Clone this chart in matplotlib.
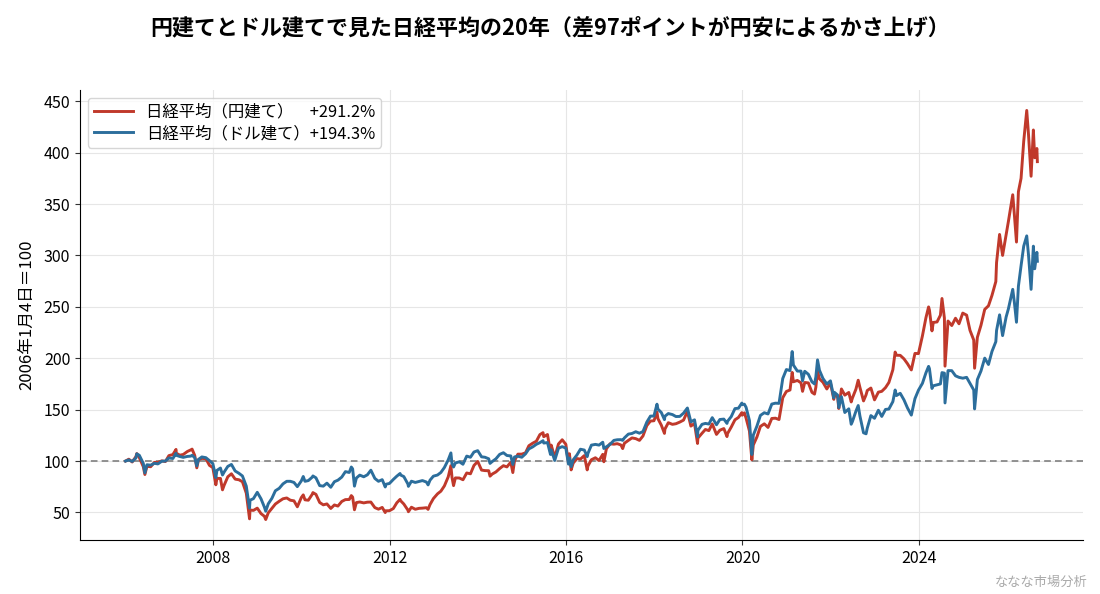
import matplotlib
matplotlib.use("Agg")
import matplotlib.pyplot as plt
import matplotlib.dates as mdates
import pandas as pd

plt.rcParams['font.family'] = ['Noto Sans CJK JP', 'DejaVu Sans']

# ---- data (index, 2006-01-04 = 100) ----
dates = [
    "2006-01-04", "2006-01-31", "2006-02-28", "2006-03-31", "2006-04-07", "2006-04-28", "2006-05-31", "2006-06-13",
    "2006-06-30", "2006-07-31", "2006-08-31", "2006-09-29", "2006-10-31", "2006-11-30", "2006-12-29",
    "2007-01-31", "2007-02-26", "2007-02-28", "2007-03-30", "2007-04-27", "2007-05-31", "2007-06-29", "2007-07-09",
    "2007-07-31", "2007-08-17", "2007-08-31", "2007-09-28", "2007-10-31", "2007-11-30", "2007-12-28",
    "2008-01-22", "2008-01-31", "2008-02-29", "2008-03-17", "2008-03-31", "2008-04-30", "2008-05-30", "2008-06-30",
    "2008-07-31", "2008-08-29", "2008-09-30", "2008-10-27", "2008-10-31", "2008-11-28", "2008-12-30",
    "2009-01-30", "2009-02-27", "2009-03-10", "2009-03-31", "2009-04-30", "2009-05-29", "2009-06-30", "2009-07-31",
    "2009-08-31", "2009-09-30", "2009-10-30", "2009-11-27", "2009-12-30",
    "2010-01-15", "2010-01-29", "2010-02-26", "2010-03-31", "2010-04-05", "2010-04-30", "2010-05-31", "2010-06-30",
    "2010-07-30", "2010-08-31", "2010-09-30", "2010-10-29", "2010-11-30", "2010-12-30",
    "2011-01-31", "2011-02-17", "2011-02-28", "2011-03-15", "2011-03-31", "2011-04-28", "2011-05-31", "2011-06-30",
    "2011-07-29", "2011-08-31", "2011-09-30", "2011-10-31", "2011-11-25", "2011-11-30", "2011-12-30",
    "2012-01-31", "2012-02-29", "2012-03-27", "2012-03-30", "2012-04-27", "2012-05-31", "2012-06-04", "2012-06-29",
    "2012-07-31", "2012-08-31", "2012-09-28", "2012-10-31", "2012-11-14", "2012-11-30", "2012-12-28",
    "2013-01-31", "2013-02-28", "2013-03-29", "2013-04-30", "2013-05-22", "2013-05-31", "2013-06-13", "2013-06-28",
    "2013-07-31", "2013-08-30", "2013-09-30", "2013-10-31", "2013-11-29", "2013-12-30",
    "2014-01-31", "2014-02-28", "2014-03-31", "2014-04-11", "2014-04-30", "2014-05-30", "2014-06-30", "2014-07-31",
    "2014-08-29", "2014-09-30", "2014-10-17", "2014-10-31", "2014-11-28", "2014-12-30",
    "2015-01-30", "2015-02-27", "2015-03-31", "2015-04-30", "2015-05-29", "2015-06-24", "2015-06-30", "2015-07-31",
    "2015-08-25", "2015-08-31", "2015-09-29", "2015-10-30", "2015-11-30", "2015-12-30",
    "2016-01-21", "2016-01-29", "2016-02-12", "2016-02-29", "2016-03-31", "2016-04-29", "2016-05-31", "2016-06-24",
    "2016-06-30", "2016-07-29", "2016-08-31", "2016-09-30", "2016-10-31", "2016-11-09", "2016-11-30", "2016-12-30",
    "2017-01-31", "2017-02-28", "2017-03-31", "2017-04-14", "2017-04-28", "2017-05-31", "2017-06-30", "2017-07-31",
    "2017-08-31", "2017-09-29", "2017-10-31", "2017-11-30", "2017-12-29",
    "2018-01-23", "2018-01-31", "2018-02-28", "2018-03-26", "2018-03-30", "2018-04-27", "2018-05-31", "2018-06-29",
    "2018-07-31", "2018-08-31", "2018-10-02", "2018-10-31", "2018-11-30", "2018-12-25", "2018-12-28",
    "2019-01-31", "2019-02-28", "2019-03-29", "2019-04-26", "2019-05-31", "2019-06-28", "2019-07-31", "2019-08-26",
    "2019-08-30", "2019-09-30", "2019-10-31", "2019-11-29", "2019-12-27", "2019-12-30",
    "2020-01-17", "2020-01-31", "2020-02-28", "2020-03-19", "2020-03-31", "2020-04-30", "2020-05-29", "2020-06-30",
    "2020-07-31", "2020-08-31", "2020-09-30", "2020-10-30", "2020-11-30", "2020-12-30",
    "2021-01-29", "2021-02-16", "2021-02-26", "2021-03-31", "2021-04-30", "2021-05-13", "2021-05-31", "2021-06-30",
    "2021-07-30", "2021-08-20", "2021-08-31", "2021-09-14", "2021-09-30", "2021-10-29", "2021-11-30", "2021-12-30",
    "2022-01-27", "2022-01-31", "2022-02-28", "2022-03-09", "2022-03-31", "2022-04-28", "2022-05-31", "2022-06-20",
    "2022-06-30", "2022-07-29", "2022-08-17", "2022-08-31", "2022-09-30", "2022-10-21", "2022-10-31", "2022-11-30",
    "2022-12-30",
    "2023-01-31", "2023-02-28", "2023-03-31", "2023-04-28", "2023-05-31", "2023-06-19", "2023-06-30", "2023-07-31",
    "2023-08-31", "2023-09-29", "2023-10-31", "2023-11-30", "2023-12-29",
    "2024-01-31", "2024-02-29", "2024-03-22", "2024-03-29", "2024-04-19", "2024-04-30", "2024-05-31", "2024-06-28",
    "2024-07-11", "2024-07-31", "2024-08-05", "2024-08-30", "2024-09-30", "2024-10-31", "2024-11-29", "2024-12-30",
    "2025-01-31", "2025-02-28", "2025-03-31", "2025-04-07", "2025-04-30", "2025-05-30", "2025-06-30", "2025-07-31",
    "2025-08-29", "2025-09-30", "2025-10-06", "2025-10-31", "2025-11-25", "2025-12-24",
    "2026-01-12", "2026-02-17", "2026-03-03", "2026-03-20", "2026-04-05", "2026-04-27", "2026-05-19", "2026-06-13",
    "2026-06-28", "2026-07-19", "2026-08-07", "2026-08-18", "2026-09-05", "2026-09-09",
]

nikkei_yen = [
    100.0, 101.8, 99.1, 104.3, 107.3, 103.3, 94.5, 86.9,
    94.8, 94.5, 98.7, 98.6, 100.2, 99.5, 105.3,
    106.3, 111.3, 107.6, 105.7, 106.4, 109.3, 110.9, 111.6,
    105.4, 93.4, 101.3, 102.6, 102.3, 95.8, 93.6,
    76.9, 83.1, 83.1, 72.0, 76.6, 84.7, 87.6, 82.4,
    81.8, 79.9, 68.8, 43.8, 52.4, 52.0, 54.2,
    48.9, 46.3, 43.1, 49.6, 54.0, 58.2, 60.9, 63.3,
    64.1, 61.9, 61.3, 55.5, 64.5,
    67.1, 62.3, 61.9, 67.8, 69.3, 67.6, 59.7, 57.4,
    58.3, 53.9, 57.3, 56.2, 60.7, 62.5,
    62.6, 66.4, 64.9, 52.6, 59.6, 60.2, 59.3, 60.0,
    60.1, 54.7, 53.2, 54.9, 49.9, 51.6, 51.7,
    53.8, 59.4, 62.7, 61.6, 58.2, 52.2, 50.7, 55.1,
    53.1, 54.0, 54.2, 54.6, 53.0, 57.7, 63.5,
    68.1, 70.7, 75.8, 84.7, 95.5, 84.2, 76.1, 83.6,
    83.5, 81.8, 88.4, 87.6, 95.7, 99.6,
    91.2, 90.7, 90.6, 85.3, 87.4, 89.4, 92.7, 95.5,
    94.3, 98.9, 88.8, 100.3, 106.7, 106.7,
    108.0, 114.9, 117.4, 119.3, 125.7, 127.6, 123.7, 125.8,
    108.8, 115.5, 103.5, 116.6, 120.7, 116.3,
    97.9, 107.1, 91.4, 98.0, 102.4, 101.9, 105.3, 91.4,
    95.2, 101.3, 103.2, 100.5, 106.5, 99.3, 111.9, 116.8,
    116.4, 116.9, 115.6, 112.1, 117.3, 120.1, 122.5, 121.8,
    120.1, 124.4, 134.5, 138.9, 139.2,
    147.5, 141.2, 134.9, 126.9, 131.1, 137.3, 135.7, 136.3,
    137.9, 139.8, 148.3, 134.0, 136.6, 117.1, 122.3,
    127.0, 130.7, 129.6, 136.1, 125.9, 130.0, 131.6, 123.8,
    126.6, 133.0, 140.1, 142.4, 147.1, 144.6,
    146.9, 141.8, 129.2, 101.2, 115.6, 123.4, 133.7, 136.2,
    132.7, 141.4, 141.7, 140.4, 161.6, 167.7,
    169.1, 186.2, 177.1, 178.4, 176.1, 167.8, 176.4, 176.0,
    166.8, 165.1, 171.7, 187.5, 180.0, 176.6, 170.1, 176.0,
    160.0, 165.0, 162.1, 151.1, 170.1, 164.1, 166.7, 157.5,
    161.3, 169.9, 178.6, 171.7, 158.5, 164.4, 168.6, 171.0,
    159.5,
    167.0, 167.8, 171.4, 176.4, 188.8, 206.0, 202.9, 202.8,
    199.4, 194.7, 188.6, 204.7, 204.5,
    221.8, 239.4, 249.9, 246.8, 226.6, 234.8, 235.3, 241.9,
    258.1, 239.0, 192.3, 236.2, 231.8, 238.9, 233.5, 243.9,
    241.9, 227.1, 217.7, 190.3, 220.3, 232.1, 247.5, 251.0,
    261.1, 274.6, 293.0, 320.4, 300.0, 320.0,
    333.0, 359.0, 339.0, 313.0, 362.0, 375.0, 411.0, 441.0,
    417.0, 377.0, 422.0, 395.0, 404.0, 391.2,
]

nikkei_usd = [
    100.0, 101.1, 99.6, 103.0, 107.0, 105.6, 97.7, 88.5,
    96.4, 96.0, 97.8, 97.2, 99.8, 100.0, 103.0,
    102.5, 107.5, 105.6, 104.4, 103.6, 104.5, 104.8, 105.6,
    103.4, 95.3, 101.6, 104.0, 103.3, 100.4, 97.5,
    84.0, 90.9, 93.2, 86.4, 89.4, 94.8, 96.7, 90.3,
    88.1, 85.5, 75.6, 54.2, 61.9, 63.4, 69.6,
    63.3, 55.2, 51.2, 58.4, 63.7, 71.1, 73.5, 77.8,
    80.3, 80.3, 79.2, 75.1, 80.7,
    85.0, 80.3, 81.0, 84.4, 85.5, 83.7, 76.1, 75.6,
    78.5, 74.5, 79.9, 81.4, 84.4, 89.7,
    88.9, 94.2, 92.4, 75.6, 83.5, 86.3, 84.7, 86.6,
    91.1, 83.1, 80.3, 81.9, 74.8, 77.4, 78.2,
    82.1, 85.3, 87.9, 86.5, 84.9, 77.6, 75.4, 80.4,
    79.2, 80.2, 81.0, 79.6, 76.8, 81.4, 85.3,
    86.4, 88.9, 93.7, 101.2, 107.9, 97.5, 94.2, 98.1,
    99.3, 96.9, 104.8, 103.7, 108.8, 110.1,
    104.1, 103.7, 102.2, 97.7, 99.6, 102.2, 106.5, 108.1,
    105.4, 105.0, 96.7, 104.0, 104.7, 103.7,
    107.0, 111.8, 113.8, 116.3, 117.9, 119.8, 117.5, 118.0,
    106.4, 110.9, 100.6, 112.5, 114.0, 112.6,
    97.0, 102.9, 94.5, 101.2, 105.9, 111.5, 110.7, 104.3,
    107.4, 115.5, 116.2, 115.5, 118.3, 112.2, 113.8, 116.2,
    120.1, 120.7, 120.8, 120.1, 122.5, 126.2, 126.8, 128.5,
    127.1, 128.7, 137.9, 143.7, 143.8,
    155.3, 150.5, 147.2, 140.3, 143.6, 146.2, 145.2, 143.3,
    143.4, 146.6, 151.6, 138.1, 140.1, 123.6, 129.8,
    135.7, 136.6, 136.0, 142.2, 135.3, 140.4, 140.8, 136.6,
    138.6, 143.2, 151.0, 151.4, 156.4, 154.9,
    155.3, 152.3, 139.4, 106.4, 125.2, 134.0, 144.4, 147.0,
    145.8, 155.4, 156.3, 156.1, 180.3, 189.0,
    188.0, 206.5, 193.4, 187.5, 187.5, 178.0, 187.3, 184.4,
    177.0, 175.0, 181.7, 198.4, 188.3, 180.3, 174.9, 178.0,
    161.5, 166.9, 164.1, 152.0, 162.6, 147.2, 150.8, 135.8,
    138.4, 148.5, 154.0, 143.9, 127.5, 126.5, 132.0, 144.2,
    141.6,
    149.4, 143.4, 150.2, 150.6, 157.8, 169.1, 163.7, 165.9,
    159.5, 151.7, 144.7, 160.7, 168.9,
    175.6, 185.8, 192.1, 189.9, 170.6, 173.2, 174.1, 175.0,
    186.0, 185.5, 156.5, 188.0, 187.9, 182.9, 181.4, 180.6,
    181.4, 175.5, 169.1, 150.7, 179.2, 187.6, 200.1, 193.9,
    206.6, 216.1, 227.0, 242.2, 222.0, 240.0,
    248.0, 267.0, 254.0, 235.0, 270.0, 290.0, 309.0, 319.0,
    300.0, 267.0, 309.0, 287.0, 303.0, 294.3,
]

label_yen = "日経平均（円建て）\u3000+291.2%"
label_usd = "日経平均（ドル建て）+194.3%"
title = "円建てとドル建てで見た日経平均の20年（差97ポイントが円安によるかさ上げ）"
ylabel = "2006年1月4日＝100"
yticks = [50, 100, 150, 200, 250, 300, 350, 400, 450]

# ---- plot ----
x = pd.to_datetime(dates)
fig = plt.figure(figsize=(11, 5.94), dpi=100)
ax = fig.add_axes([0.0727, 0.0909, 0.9118, 0.7576])

ax.plot(x, nikkei_yen, color="#c0392b", lw=2.1, label=label_yen, zorder=3)
ax.plot(x, nikkei_usd, color="#2c6e9c", lw=2.1, label=label_usd, zorder=4)
ax.axhline(100, color="#808080", lw=1.2, ls=(0, (4, 2.5)), zorder=2)

ax.xaxis.set_major_locator(mdates.YearLocator(4))
ax.xaxis.set_major_formatter(mdates.DateFormatter("%Y"))
ax.set_yticks(yticks)
ax.tick_params(labelsize=11.5, length=3.5, color="#333333")
ax.grid(True, color="#e6e6e6", lw=0.8, zorder=0)
ax.set_axisbelow(True)
for s in ("top", "right"):
    ax.spines[s].set_visible(False)
ax.set_ylabel(ylabel, fontsize=12, labelpad=6)

leg = ax.legend(loc="upper left", fontsize=11.8, handlelength=2.4, frameon=True,
                borderpad=0.35, labelspacing=0.25, handletextpad=0.8)
leg.get_frame().set_edgecolor("#cccccc")

fig.suptitle(title, fontsize=15.8, fontweight="bold", y=0.953, va="center")
fig.text(0.989, 0.02, "ななな市場分析", fontsize=9.5, color="#aaaaaa", ha="right", va="center")

fig.savefig("out.png", dpi=100)
